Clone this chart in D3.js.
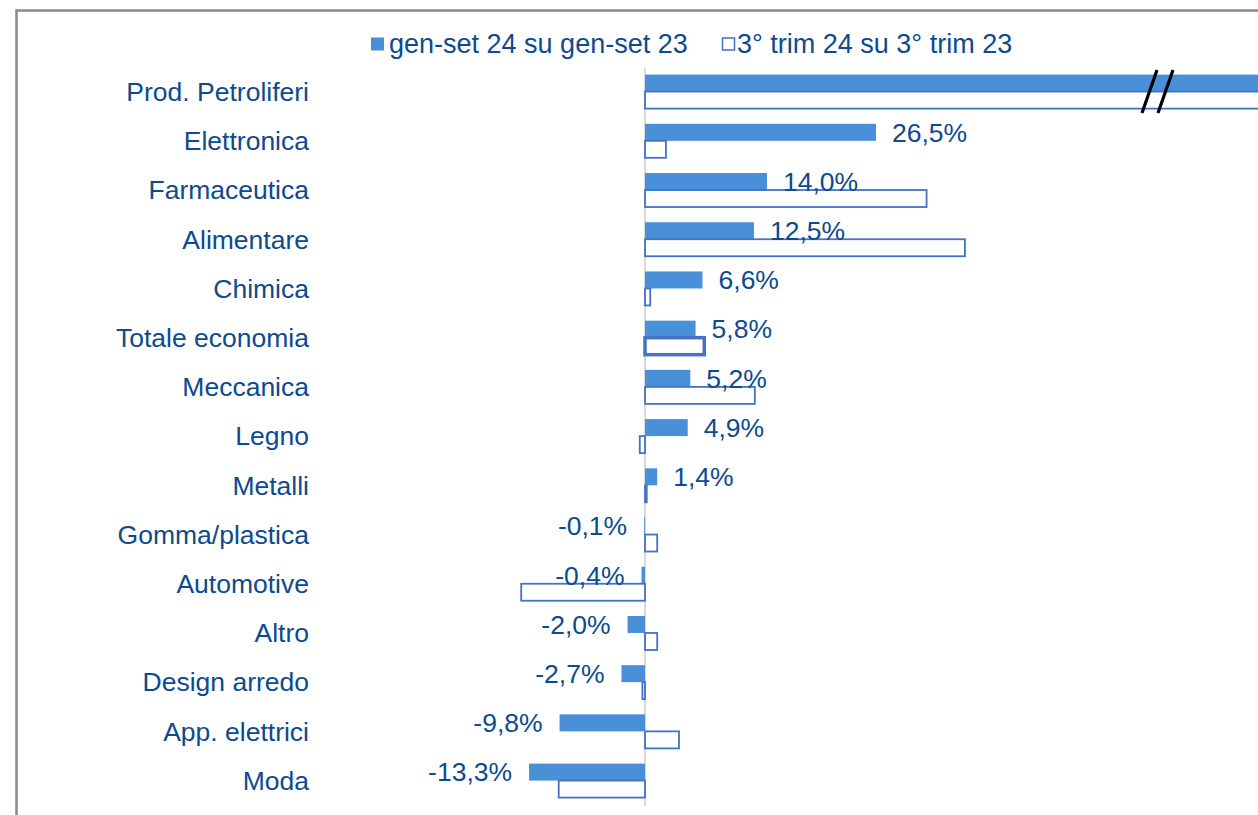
<!DOCTYPE html>
<html>
<head>
<meta charset="utf-8">
<script src="https://cdn.jsdelivr.net/npm/d3@7"></script>
<style>
  html, body { margin: 0; padding: 0; background: #fff; }
  svg { display: block; }
  text { font-family: "Liberation Sans", Arial, sans-serif; }
</style>
</head>
<body>
<svg id="chart" width="1258" height="815"></svg>
<script>
// Sectors, top to bottom
const categories = [
  "Prod. Petroliferi", "Elettronica", "Farmaceutica", "Alimentare", "Chimica",
  "Totale economia", "Meccanica", "Legno", "Metalli", "Gomma/plastica",
  "Automotive", "Altro", "Design arredo", "App. elettrici", "Moda"
];
// Growth, % : Jan-Sep 2024 vs Jan-Sep 2023 (Prod. Petroliferi is off the broken axis)
const genSet = [95, 26.5, 14.0, 12.5, 6.6, 5.8, 5.2, 4.9, 1.4, -0.1, -0.4, -2.0, -2.7, -9.8, -13.3];
// Growth, % : Q3 2024 vs Q3 2023
const trim3 = [90, 2.4, 32.3, 36.7, 0.6, 6.8, 12.6, -0.6, 0.2, 1.4, -14.2, 1.4, -0.3, 3.9, -9.9];
const seriesNames = ["gen-set 24 su gen-set 23", "3° trim 24 su 3° trim 23"];
const highlighted = "Totale economia";

const W = 1258, H = 815;
const svg = d3.select("#chart");

const textColor = "#0d4a8e";
const fillColor = "#4a90d9";
const strokeColor = "#4472c4";
const fontSize = 26.5;

// outer frame
svg.append("rect")
  .attr("x", 16.5).attr("y", 10.5)
  .attr("width", W + 10).attr("height", H + 10)
  .attr("fill", "none").attr("stroke", "#8a8a8a").attr("stroke-width", 2.5);

// scales
const zeroX = 645, unit = 8.717;
const x = d3.scaleLinear().domain([-10, 10]).range([zeroX - 10 * unit, zeroX + 10 * unit]);
const y = d3.scaleBand().domain(categories).range([67, 805.2]).paddingInner(0).paddingOuter(0);
const sub = d3.scaleBand().domain(seriesNames).range([0, y.bandwidth()]).paddingInner(0).paddingOuter(0.447);

const rows = categories.map((c, i) => ({ cat: c, a: genSet[i], b: trim3[i] }));

// zero line
svg.append("line")
  .attr("x1", x(0)).attr("x2", x(0))
  .attr("y1", 68).attr("y2", 806)
  .attr("stroke", "#d9d9d9").attr("stroke-width", 2);

// category labels
svg.append("g").selectAll("text").data(rows).join("text")
  .attr("x", 309)
  .attr("y", d => y(d.cat) + y.bandwidth() / 2)
  .attr("dy", "0.35em")
  .attr("text-anchor", "end")
  .attr("font-size", fontSize)
  .attr("fill", textColor)
  .text(d => d.cat);

// filled bars
svg.append("g").selectAll("rect").data(rows).join("rect")
  .attr("x", d => x(Math.min(0, d.a)))
  .attr("y", d => y(d.cat) + sub(seriesNames[0]))
  .attr("width", d => Math.abs(x(d.a) - x(0)))
  .attr("height", sub.bandwidth())
  .attr("fill", fillColor);

// hollow bars
svg.append("g").selectAll("rect").data(rows).join("rect")
  .attr("x", d => x(Math.min(0, d.b)))
  .attr("y", d => y(d.cat) + sub(seriesNames[1]))
  .attr("width", d => Math.abs(x(d.b) - x(0)))
  .attr("height", sub.bandwidth())
  .attr("fill", "none")
  .attr("stroke", strokeColor)
  .attr("stroke-width", d => d.cat === highlighted ? 3.5 : 1.8);

// value labels for the first series
const fmt = v => d3.format(".1f")(v).replace(".", ",").replace("−", "-") + "%";
svg.append("g").selectAll("text").data(rows.filter(d => d.cat !== "Prod. Petroliferi")).join("text")
  .attr("x", d => d.a >= 0 ? x(d.a) + 16 : x(d.a) - 17)
  .attr("y", d => y(d.cat) + sub(seriesNames[0]) + sub.bandwidth() / 2)
  .attr("dy", "0.35em")
  .attr("text-anchor", d => d.a >= 0 ? "start" : "end")
  .attr("font-size", fontSize)
  .attr("fill", textColor)
  .text(d => fmt(d.a));

// axis break marks on the off-scale row
const brk = svg.append("g").attr("stroke", "#000").attr("stroke-width", 3.2);
const by0 = y(categories[0]) + 3, by1 = y(categories[0]) + 46;
[1142, 1158].forEach(bx => {
  brk.append("line").attr("x1", bx).attr("y1", by1).attr("x2", bx + 15).attr("y2", by0);
});

// legend
const lg = svg.append("g");
lg.append("rect").attr("x", 371).attr("y", 37.5).attr("width", 13).attr("height", 13).attr("fill", fillColor);
lg.append("text").attr("x", 389).attr("y", 44).attr("dy", "0.35em")
  .attr("font-size", fontSize + 0.5).attr("fill", textColor).text(seriesNames[0]);
lg.append("rect").attr("x", 722.5).attr("y", 38).attr("width", 12).attr("height", 12)
  .attr("fill", "none").attr("stroke", strokeColor).attr("stroke-width", 1.5);
lg.append("text").attr("x", 737).attr("y", 44).attr("dy", "0.35em")
  .attr("font-size", fontSize + 0.5).attr("fill", textColor).text(seriesNames[1]);
</script>
</body>
</html>
